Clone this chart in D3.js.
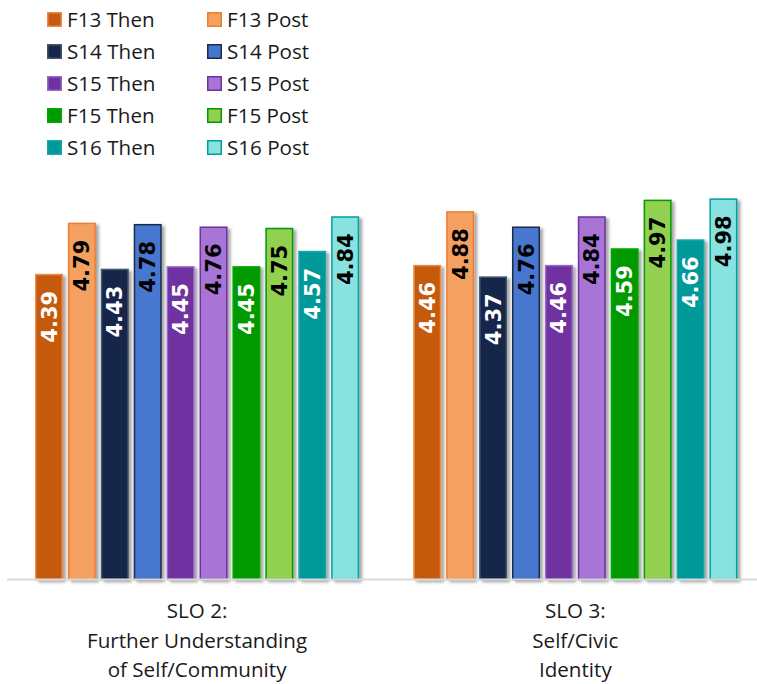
<!DOCTYPE html>
<html>
<head>
<meta charset="utf-8">
<script src="https://cdn.jsdelivr.net/npm/d3@7"></script>
<style>
  body { margin: 0; background: #fff; }
  svg { display: block; }
</style>
</head>
<body>
<div id="chart"></div>
<script>
// categories (each label on several lines)
const categories = ["SLO 2", "SLO 3"]
const categoryLines = [
    ["SLO 2:", "Further Understanding", "of Self/Community"],
    ["SLO 3:", "Self/Civic", "Identity"]
]

// series, in the order of the bars
const series = ["F13 Then", "F13 Post", "S14 Then", "S14 Post", "S15 Then",
    "S15 Post", "F15 Then", "F15 Post", "S16 Then", "S16 Post"]

// values per category
const slo2Values = [4.39, 4.79, 4.43, 4.78, 4.45, 4.76, 4.45, 4.75, 4.57, 4.84]
const slo3Values = [4.46, 4.88, 4.37, 4.76, 4.46, 4.84, 4.59, 4.97, 4.66, 4.98]

// colours
const fills = ["#c55a11", "#f4a061", "#15284b", "#4677cf", "#7030a0",
    "#a874d6", "#009900", "#92d050", "#009999", "#88e3e0"]
const strokes = ["#ee8a45", "#ed7d31", "#44546a", "#1c2b4c", "#9966cc",
    "#7030a0", "#00a800", "#009900", "#19a7a7", "#00a0a0"]

const width = 757, height = 684

let data = categories.map((c, i) => ({
    cat: c,
    lines: categoryLines[i],
    values: (i === 0 ? slo2Values : slo3Values).map((v, j) => ({ key: series[j], value: v, idx: j }))
}))

let svg = d3.select("#chart").append("svg")
    .attr("width", width)
    .attr("height", height)

// ombre des barres
let defs = svg.append("defs")
defs.append("filter")
    .attr("id", "shadow")
    .attr("x", "-20%").attr("y", "-10%").attr("width", "160%").attr("height", "130%")
    .append("feDropShadow")
    .attr("dx", 3).attr("dy", 2)
    .attr("stdDeviation", 1.6)
    .attr("flood-color", "#000")
    .attr("flood-opacity", 0.35)

// Echelles
let x0 = d3.scaleBand()
    .domain(categories)
    .range([13.6, 758.8])
    .paddingInner(0.13)
    .paddingOuter(0.05)

let x1 = d3.scaleBand()
    .domain(series)
    .range([0, x0.bandwidth()])
    .paddingInner(0.149)
    .paddingOuter(0.0745)

let y = d3.scaleLinear()
    .domain([2, 5])
    .range([579.5, 195.8])

// Barres
let groups = svg.append("g")
    .selectAll("g")
    .data(data)
    .join("g")
    .attr("transform", d => "translate(" + x0(d.cat) + ",0)")

groups.selectAll("rect")
    .data(d => d.values)
    .join("rect")
    .attr("x", d => x1(d.key) + 0.75)
    .attr("y", d => y(d.value) + 0.75)
    .attr("width", x1.bandwidth() - 1.5)
    .attr("height", d => y(2) - y(d.value) - 0.75)
    .attr("fill", d => fills[d.idx])
    .attr("stroke", d => strokes[d.idx])
    .attr("stroke-width", 1.5)
    .attr("filter", "url(#shadow)")

// Etiquettes de valeurs
groups.selectAll("text")
    .data(d => d.values)
    .join("text")
    .attr("transform", d => "translate(" + (x1(d.key) + x1.bandwidth() / 2) + "," + (y(d.value) + 17) + ") rotate(-90)")
    .attr("text-anchor", "end")
    .attr("dy", "0.36em")
    .style("font-family", "'DejaVu Sans', sans-serif")
    .style("font-weight", "bold")
    .style("font-size", "21px")
    .attr("fill", d => d.idx % 2 === 0 ? "#ffffff" : "#000000")
    .text(d => d.value.toFixed(2))

// Axe horizontal
svg.append("line")
    .attr("x1", 7).attr("x2", 757)
    .attr("y1", y(2)).attr("y2", y(2))
    .attr("stroke", "#d9d9d9")
    .attr("stroke-width", 2)

// Libellés des categories
let labels = svg.append("g")
    .selectAll("text")
    .data(data)
    .join("text")
    .attr("x", d => x0(d.cat) + x0.bandwidth() / 2)
    .attr("y", 618)
    .attr("text-anchor", "middle")
    .style("font-family", "'Open Sans', sans-serif")
    .style("font-size", "20.6px")
    .attr("fill", "#1a1a1a")

labels.selectAll("tspan")
    .data(d => d.lines)
    .join("tspan")
    .attr("x", function () { return d3.select(this.parentNode).attr("x") })
    .attr("dy", (d, i) => i === 0 ? 0 : 29.5)
    .text(d => d)

// Legende
let legend = svg.append("g")
    .selectAll("g")
    .data(series)
    .join("g")
    .attr("transform", (d, i) => "translate(" + (i % 2 === 0 ? 47 : 207) + "," + (12 + Math.floor(i / 2) * 32) + ")")

legend.append("rect")
    .attr("x", 0.75).attr("y", 0.75)
    .attr("width", 13.5).attr("height", 13.5)
    .attr("fill", (d, i) => fills[i])
    .attr("stroke", (d, i) => strokes[i])
    .attr("stroke-width", 1.5)

legend.append("text")
    .attr("x", 20)
    .attr("y", 14.5)
    .style("font-family", "'Open Sans', sans-serif")
    .style("font-size", "20.6px")
    .attr("fill", "#1a1a1a")
    .text(d => d)
</script>
</body>
</html>
